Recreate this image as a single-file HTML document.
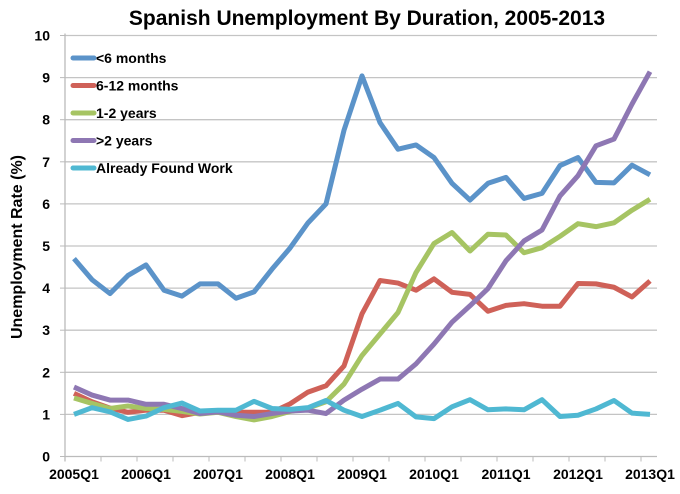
<!DOCTYPE html>
<html><head><meta charset="utf-8"><style>
body{margin:0;background:#fff}
svg text{font-family:"Liberation Sans",sans-serif;font-weight:bold}
</style></head><body>
<svg id="chart" width="680" height="489"></svg>
<script>
const categories=["2005Q1","2005Q2","2005Q3","2005Q4","2006Q1","2006Q2","2006Q3","2006Q4","2007Q1","2007Q2","2007Q3","2007Q4","2008Q1","2008Q2","2008Q3","2008Q4","2009Q1","2009Q2","2009Q3","2009Q4","2010Q1","2010Q2","2010Q3","2010Q4","2011Q1","2011Q2","2011Q3","2011Q4","2012Q1","2012Q2","2012Q3","2012Q4","2013Q1"];
const lt6m=[4.70,4.20,3.87,4.30,4.55,3.95,3.81,4.10,4.10,3.76,3.91,4.45,4.95,5.55,6.00,7.75,9.04,7.93,7.30,7.40,7.10,6.49,6.09,6.49,6.63,6.13,6.25,6.91,7.10,6.51,6.50,6.92,6.69];
const m6to12=[1.50,1.30,1.15,1.05,1.10,1.10,0.97,1.05,1.05,1.05,1.05,1.05,1.25,1.53,1.68,2.15,3.39,4.18,4.12,3.95,4.22,3.90,3.85,3.45,3.59,3.63,3.57,3.57,4.11,4.10,4.02,3.79,4.17];
const y1to2=[1.39,1.26,1.14,1.20,1.14,1.12,1.07,1.01,1.05,0.95,0.87,0.95,1.07,1.15,1.30,1.72,2.40,2.91,3.42,4.37,5.06,5.32,4.88,5.28,5.26,4.84,4.96,5.23,5.53,5.46,5.55,5.85,6.11];
const gt2y=[1.65,1.46,1.34,1.34,1.24,1.24,1.14,1.02,1.06,0.98,0.95,1.02,1.08,1.10,1.02,1.34,1.60,1.84,1.84,2.20,2.67,3.19,3.58,3.99,4.65,5.12,5.38,6.19,6.67,7.38,7.54,8.37,9.14];
const foundWork=[1.00,1.16,1.06,0.88,0.96,1.16,1.27,1.08,1.10,1.10,1.31,1.14,1.12,1.16,1.33,1.10,0.95,1.10,1.26,0.94,0.90,1.18,1.35,1.11,1.13,1.11,1.35,0.95,0.98,1.13,1.33,1.03,1.00];
const seriesNames=["<6 months","6-12 months","1-2 years",">2 years","Already Found Work"];
const yTicks=[0,1,2,3,4,5,6,7,8,9,10];
const xLabels=["2005Q1","2006Q1","2007Q1","2008Q1","2009Q1","2010Q1","2011Q1","2012Q1","2013Q1"];
const colors=["#5b93c9","#cf6158","#a6c463","#8e77b3","#4fb8d2"];
const allSeries=[lt6m,m6to12,y1to2,gt2y,foundWork];

const NS="http://www.w3.org/2000/svg";
const svg=document.getElementById('chart');
const X0=65,X1=657,Y0=456.5,PU=42.1;
const step=576/(categories.length-1);
const xs=i=>74+i*step;
const ys=v=>Y0-v*PU;
function mk(tag,attrs,parent){const e=document.createElementNS(NS,tag);for(const k in attrs)e.setAttribute(k,attrs[k]);(parent||svg).appendChild(e);return e;}

const t=mk('text',{x:367,y:25,'font-size':21,'text-anchor':'middle'});


t.textContent='Spanish Unemployment By Duration, 2005-2013';

yTicks.forEach(v=>{
  if(v>0){const g=mk('line',{x1:X0,x2:X1,y1:ys(v),y2:ys(v),stroke:'#c4c4c4','stroke-width':1.3});
  
  }
  const tk=mk('line',{x1:X0-5,x2:X0,y1:ys(v),y2:ys(v),stroke:'#bbb'});
  
  
  const l=mk('text',{x:50,y:ys(v)+5,'font-size':14,'text-anchor':'end'});
  
  
  l.textContent=v;
});
const ya=mk('line',{x1:X0,x2:X0,y1:ys(10)-2,y2:Y0+5,stroke:'#bbb','stroke-width':1.3});


const xa=mk('line',{x1:X0,x2:X1,y1:Y0,y2:Y0,stroke:'#bbb','stroke-width':1.3});


categories.forEach((c,i)=>{if(i%2===0){const tx=xs(i)-step/2;const tk=mk('line',{x1:tx,x2:tx,y1:Y0,y2:Y0+5,stroke:'#bbb'});
 
 }});
xLabels.forEach(lab=>{const i=categories.indexOf(lab);
 const l=mk('text',{x:xs(i),y:479,'font-size':14,'text-anchor':'middle'});
 
 
 l.textContent=lab;});
const yt=mk('text',{x:0,y:0,'font-size':16,'text-anchor':'middle',transform:'translate(22,247) rotate(-90)'});


yt.textContent='Unemployment Rate (%)';

allSeries.forEach((s,k)=>{
  const p=mk('polyline',{points:s.map((v,i)=>xs(i)+','+ys(v)).join(' '),fill:'none',stroke:colors[k],'stroke-width':5,'stroke-linejoin':'round'});
  
  
});
seriesNames.forEach((n,k)=>{
  const y=58+k*27.5;
  const g=mk('g',{});
  
  
  mk('line',{x1:73,x2:94,y1:y,y2:y,stroke:colors[k],'stroke-width':5,'stroke-linecap':'round'},g);
  const l=mk('text',{x:96,y:y+5,'font-size':14},g);
  l.textContent=n;
});
</script>
</body></html>
